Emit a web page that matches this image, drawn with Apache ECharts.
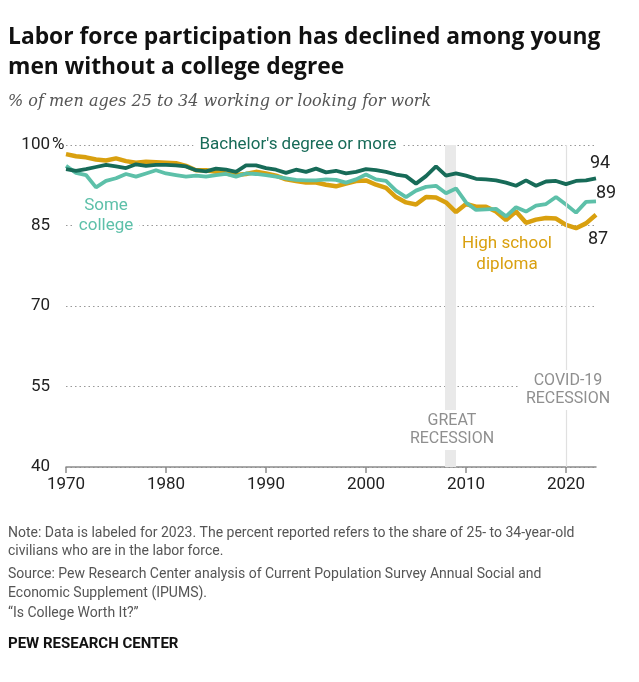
<!DOCTYPE html>
<html><head><meta charset="utf-8">
<script src="https://cdn.jsdelivr.net/npm/echarts@6/dist/echarts.min.js"></script>
<style>html,body{margin:0;padding:0;background:#fff}#c{width:639px;height:682px}</style>
</head><body><div id="c"></div>
<script>
const years = [1970,1971,1972,1973,1974,1975,1976,1977,1978,1979,
  1980,1981,1982,1983,1984,1985,1986,1987,1988,1989,
  1990,1991,1992,1993,1994,1995,1996,1997,1998,1999,
  2000,2001,2002,2003,2004,2005,2006,2007,2008,2009,
  2010,2011,2012,2013,2014,2015,2016,2017,2018,2019,
  2020,2021,2022,2023];
const bachelor = [95.5,95.2,95.5,95.9,96.3,96.0,95.7,96.4,96.1,96.3,
  96.3,96.2,96.0,95.3,95.1,95.6,95.4,95.0,96.2,96.2,
  95.7,95.4,94.8,95.4,95.0,95.6,94.9,95.2,94.7,95.0,
  95.5,95.3,95.0,94.5,94.2,92.8,94.2,96.0,94.3,94.7,
  94.3,93.7,93.6,93.4,93.0,92.4,93.4,92.4,93.2,93.3,
  92.7,93.3,93.4,93.8];
const someCollege = [96.1,94.8,94.4,92.1,93.3,93.8,94.6,94.1,94.7,95.3,
  94.7,94.4,94.1,94.3,94.1,94.4,94.6,94.1,94.7,94.6,
  94.4,94.1,93.8,93.5,93.4,93.4,93.6,93.5,93.0,93.6,
  94.5,93.6,93.3,91.5,90.3,91.5,92.2,92.4,91.0,91.9,
  89.3,87.9,88.0,88.1,86.7,88.4,87.6,88.7,89.0,90.3,
  88.9,87.4,89.4,89.5];
const highSchool = [98.3,97.9,97.7,97.3,97.1,97.5,97.0,96.7,96.9,96.8,
  96.7,96.6,96.1,95.3,95.3,95.0,94.7,94.4,94.6,95.0,
  94.7,94.3,93.6,93.3,93.0,93.0,92.6,92.3,92.8,93.3,
  93.4,92.6,92.0,90.3,89.3,88.9,90.3,90.2,89.3,87.5,
  89.0,88.5,88.5,87.6,86.0,87.6,85.5,86.1,86.4,86.3,
  85.1,84.5,85.4,87.0];
const endLabels = ['94','89','87'];
const xTicks = [1970,1980,1990,2000,2010,2020];
const greatRecession = [2007.9, 2009.0];
const covidYear = 2020;

const C_BA = '#176b58', C_SC = '#5dc0a9', C_HS = '#d9a00f';
const F = 'Roboto, "Liberation Sans", sans-serif';
const pair = arr => years.map((y, i) => [y, arr[i]]);

const chart = echarts.init(document.getElementById('c'), null, {renderer: 'canvas'});
const txt = (x, y, text, o) => ({type: 'text', x, y, z: 100, style: Object.assign({
  text, fontFamily: F, fontSize: 16, fill: '#222', textAlign: 'left', textVerticalAlign: 'middle'}, o || {})});

chart.setOption({
  animation: false,
  backgroundColor: '#fff',
  grid: {left: 66, right: 43, top: 145, bottom: 215},
  xAxis: {
    type: 'value', min: 1970, max: 2023,
    axisLine: {lineStyle: {color: '#8c8c8c', width: 1.5}},
    axisTick: {customValues: xTicks, length: 6, lineStyle: {color: '#8c8c8c', width: 1.5}},
    axisLabel: {customValues: xTicks, color: '#222', fontSize: 17, fontFamily: F, margin: 9, formatter: v => String(v)},
    splitLine: {show: false}
  },
  yAxis: {
    type: 'value', min: 40, max: 100, interval: 15,
    axisLine: {show: false}, axisTick: {show: false},
    axisLabel: {color: '#222', fontSize: 17, fontFamily: F, margin: 16},
    splitLine: {lineStyle: {type: [1.5, 3], color: '#999', width: 1.2}}
  },
  series: [
    {type: 'line', data: [], z: 1, silent: true,
      markArea: {silent: true, itemStyle: {color: '#e9e9e9'}, data: [[{xAxis: greatRecession[0]}, {xAxis: greatRecession[1]}]]},
      markLine: {silent: true, symbol: 'none', label: {show: false}, lineStyle: {color: '#e0e0e0', type: 'solid', width: 1.2}, data: [{xAxis: covidYear}]}
    },
    {name: 'High school diploma', type: 'line', data: pair(highSchool), showSymbol: false, z: 3,
      lineStyle: {color: C_HS, width: 4.5}, itemStyle: {color: C_HS}},
    {name: 'Some college', type: 'line', data: pair(someCollege), showSymbol: false, z: 4,
      lineStyle: {color: C_SC, width: 3.8}, itemStyle: {color: C_SC}},
    {name: "Bachelor's degree or more", type: 'line', data: pair(bachelor), showSymbol: false, z: 5,
      lineStyle: {color: C_BA, width: 3.8}, itemStyle: {color: C_BA}}
  ],
  graphic: [
    txt(8, 38, 'Labor force participation has declined among young', {fontFamily: '"Open Sans", sans-serif', fontSize: 22.8, fontWeight: 'bold', fill: '#111'}),
    txt(8, 68, 'men without a college degree', {fontFamily: '"Open Sans", sans-serif', fontSize: 22.8, fontWeight: 'bold', fill: '#111'}),
    txt(8, 102, '% of men ages 25 to 34 working or looking for work', {fontFamily: '"DejaVu Serif", serif', fontStyle: 'italic', fontSize: 16, fill: '#555'}),
    txt(52, 145, '%', {fontSize: 17}),
    txt(298, 145, "Bachelor's degree or more", {textAlign: 'center', fill: C_BA, fontSize: 17, backgroundColor: '#fff', padding: [2, 6]}),
    txt(106, 216, 'Some\ncollege', {textAlign: 'center', fill: C_SC, fontSize: 17, lineHeight: 20, backgroundColor: '#fff', padding: [0, 6]}),
    txt(507, 254, 'High school\ndiploma', {textAlign: 'center', fill: C_HS, fontSize: 17, lineHeight: 21}),
    txt(590, 163, endLabels[0], {fontSize: 18}),
    txt(596, 193, endLabels[1], {fontSize: 18}),
    txt(588, 239, endLabels[2], {fontSize: 18}),
    txt(452, 430, 'GREAT\nRECESSION', {textAlign: 'center', fill: '#8f8f8f', fontSize: 16, lineHeight: 18, backgroundColor: '#fff', padding: [2, 4]}),
    txt(568, 390, 'COVID-19\nRECESSION', {textAlign: 'center', fill: '#8f8f8f', fontSize: 16, lineHeight: 18, backgroundColor: '#fff', padding: [2, 6]}),
    txt(8, 533, 'Note: Data is labeled for 2023. The percent reported refers to the share of 25- to 34-year-old', {fontSize: 14, fill: '#555'}),
    txt(8, 551, 'civilians who are in the labor force.', {fontSize: 14, fill: '#555'}),
    txt(8, 574, 'Source: Pew Research Center analysis of Current Population Survey Annual Social and', {fontSize: 14, fill: '#555'}),
    txt(8, 593, 'Economic Supplement (IPUMS).', {fontSize: 14, fill: '#555'}),
    txt(8, 613, '\u201cIs College Worth It?\u201d', {fontSize: 14, fill: '#555'}),
    txt(8, 644, 'PEW RESEARCH CENTER', {fontSize: 15, fontWeight: 'bold', fill: '#111'})
  ]
});
</script>
</body></html>
